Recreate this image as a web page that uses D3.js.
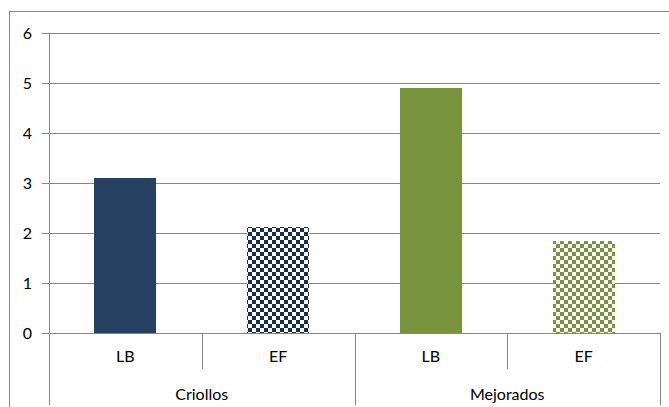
<!DOCTYPE html>
<html>
<head>
<meta charset="utf-8">
<script src="https://cdn.jsdelivr.net/npm/d3@7"></script>
<style>
  html, body { margin: 0; padding: 0; background: #fff; }
  svg { display: block; }
  text { font-family: Lato, "Open Sans", sans-serif; fill: #000; }
</style>
</head>
<body>
<svg id="chart" width="669" height="407"></svg>
<script>
// Grouped categories (outer group + inner label) and their values
const groups = ["Criollos", "Mejorados"];
const subLabels = ["LB", "EF"];
const values = [3.1, 2.13, 4.9, 1.84];
const yTicks = [0, 1, 2, 3, 4, 5, 6];

const svg = d3.select("#chart");
const W = 669, H = 407;
const plot = { left: 49, right: 660, top: 33, bottom: 333 };
const fontSize = 16;

// Rows built from the arrays above
const rows = [];
groups.forEach((g, gi) => subLabels.forEach((s, si) => {
  rows.push({ key: g + "|" + s, group: g, gi, sub: s, si, value: values[gi * subLabels.length + si] });
}));

const x = d3.scaleBand()
  .domain(rows.map(d => d.key))
  .range([plot.left, plot.right])
  .paddingInner(0.594)
  .paddingOuter(0.297);

const y = d3.scaleLinear().domain([0, 6]).range([plot.bottom, plot.top]);

const gridColor = "#868686";

// Patterns for the checkered bars
const defs = svg.append("defs");
function checker(id, color) {
  const p = defs.append("pattern")
    .attr("id", id).attr("patternUnits", "userSpaceOnUse")
    .attr("width", 8).attr("height", 8);
  p.append("rect").attr("width", 8).attr("height", 8).attr("fill", "#fff");
  p.append("rect").attr("x", 0).attr("y", 0).attr("width", 4).attr("height", 4).attr("fill", color);
  p.append("rect").attr("x", 4).attr("y", 4).attr("width", 4).attr("height", 4).attr("fill", color);
}
checker("chk-blue", "#17304f");
checker("chk-green", "#77933c");

const solid = ["#254061", "#77933c"];
const fillFor = d => d.si === 0 ? solid[d.gi] : (d.gi === 0 ? "url(#chk-blue)" : "url(#chk-green)");

// Chart area border
svg.append("rect")
  .attr("x", 9.5).attr("y", 11.5).attr("width", W + 20).attr("height", H + 20)
  .attr("fill", "none").attr("stroke", gridColor).attr("stroke-width", 1);

// Horizontal gridlines with outside tick marks
const yAxis = d3.axisLeft(y).tickValues(yTicks).tickSize(-(plot.right - plot.left)).tickPadding(17).tickFormat(d3.format("d"));
const gy = svg.append("g").attr("transform", `translate(${plot.left},0)`).call(yAxis);
gy.select(".domain").remove();
gy.selectAll(".tick line")
  .attr("x1", -7).attr("stroke", gridColor).attr("stroke-width", 1)
  .attr("shape-rendering", "crispEdges");
gy.selectAll(".tick text").attr("font-size", fontSize).attr("font-family", "Lato, Open Sans, sans-serif");

// Bars
svg.append("g").selectAll("rect").data(rows).join("rect")
  .attr("x", d => x(d.key))
  .attr("y", d => y(d.value))
  .attr("width", x.bandwidth())
  .attr("height", d => y(0) - y(d.value))
  .attr("fill", fillFor)
  .attr("shape-rendering", "crispEdges");

// Axis lines
const axis = svg.append("g").attr("stroke", gridColor).attr("stroke-width", 1).attr("shape-rendering", "crispEdges");
axis.append("line").attr("x1", plot.left + 0.5).attr("x2", plot.left + 0.5).attr("y1", plot.top).attr("y2", 405);
axis.append("line").attr("x1", plot.left).attr("x2", plot.right).attr("y1", plot.bottom + 0.5).attr("y2", plot.bottom + 0.5);

// Category dividers: short between sub labels, long between groups
const step = x.step();
rows.forEach((d, i) => {
  if (i === 0) return;
  const xp = Math.round(x(d.key) - x.paddingInner() * step / 2) + 0.5;
  const long = d.si === 0;
  axis.append("line").attr("x1", xp).attr("x2", xp).attr("y1", plot.bottom).attr("y2", long ? 405 : 369);
});
axis.append("line").attr("x1", plot.right + 0.5).attr("x2", plot.right + 0.5).attr("y1", plot.bottom).attr("y2", 405);

// Inner labels
svg.append("g").selectAll("text").data(rows).join("text")
  .attr("x", d => x(d.key) + x.bandwidth() / 2)
  .attr("y", 362)
  .attr("text-anchor", "middle")
  .attr("font-size", fontSize)
  .text(d => d.sub);

// Group labels
svg.append("g").selectAll("text").data(groups).join("text")
  .attr("x", (g, gi) => {
    const ks = rows.filter(r => r.gi === gi);
    return (x(ks[0].key) + x(ks[ks.length - 1].key) + x.bandwidth()) / 2;
  })
  .attr("y", 400)
  .attr("text-anchor", "middle")
  .attr("font-size", fontSize)
  .text(g => g);
</script>
</body>
</html>
